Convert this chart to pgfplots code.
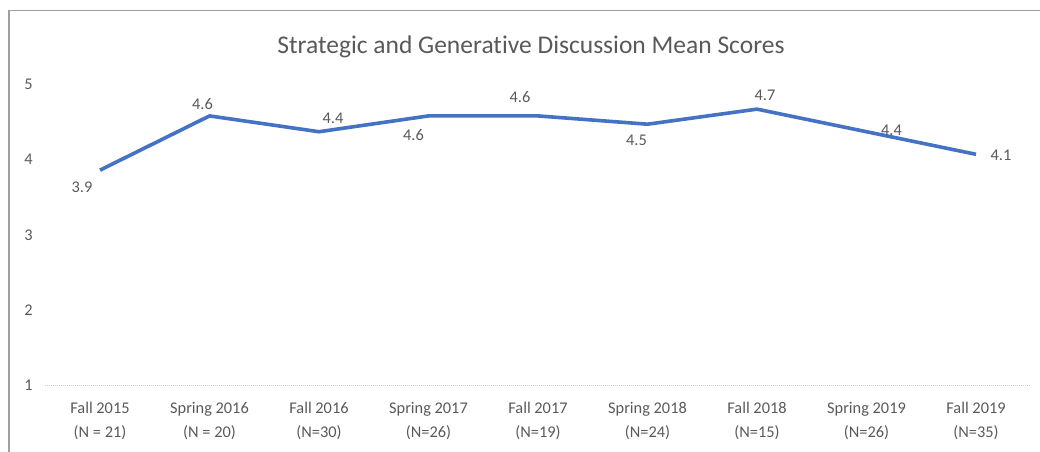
\documentclass[border=0pt]{standalone}
\usepackage{fontspec}
\setmainfont[Ligatures={NoCommon}]{Carlito}
\usepackage{pgfplots}
\usepackage{pgfplotstable}
\pgfplotsset{compat=1.18}
\definecolor{txt}{HTML}{595959}
\definecolor{ln}{HTML}{4472C4}
\pgfplotstableread{
x y lab dx dy
0 3.86 3.9 -18 -17
1 4.58 4.6 -7 12
2 4.37 4.4 14 13
3 4.58 4.6 -15 -19
4 4.58 4.6 -18 19
5 4.47 4.5 -11 -16
6 4.67 4.7 8 14
7 4.37 4.4 25 1
8 4.07 4.1 25 -1
}\scores
\begin{document}
\begin{tikzpicture}[x=1bp,y=1bp]
\useasboundingbox (0,0) rectangle (1040,452);
\draw[color=gray!75, line width=1.5bp] (9,-20) -- (9,441.5) -- (1060,441.5);
\node[text=txt, font=\fontsize{25.6}{30}\selectfont] at (531,405.5) {Strategic and Generative Discussion Mean Scores};
\begin{axis}[at={(45.25bp,66.5bp)}, anchor=south west, scale only axis,
  width=985.5bp, height=301.2bp,
  xmin=-0.5, xmax=8.5, ymin=1, ymax=5,
  ytick={1,2,3,4,5},
  xtick={0,...,8},
  xticklabels={{Fall 2015\\(N = 21)},{Spring 2016\\(N = 20)},{Fall 2016\\(N=30)},{Spring 2017\\(N=26)},{Fall 2017\\(N=19)},{Spring 2018\\(N=24)},{Fall 2018\\(N=15)},{Spring 2019\\(N=26)},{Fall 2019\\(N=35)}},
  axis x line*=bottom, axis y line*=left,
  x axis line style={-, color=gray!40, line width=0.75bp, dash pattern=on 1bp off 1bp},
  y axis line style={draw=none},
  major tick length=0pt,
  tick label style={text=txt, font=\fontsize{16.4}{24}\selectfont},
  xticklabel style={align=center, yshift=-13bp},
  yticklabel style={anchor=east, xshift=-9bp},
  /pgf/number format/assume math mode=true,
  clip=false,
]
\addplot[color=ln, line width=3.6bp, line join=round,
  point meta=explicit symbolic,
  visualization depends on={\thisrow{dx}\as\dx},
  visualization depends on={\thisrow{dy}\as\dy},
  nodes near coords,
  every node near coord/.append style={anchor=center, xshift=\dx bp, yshift=\dy bp, text=txt, font=\fontsize{16.4}{20}\selectfont},
] table[x=x, y=y, meta=lab] {\scores};
\end{axis}
\end{tikzpicture}
\end{document}
